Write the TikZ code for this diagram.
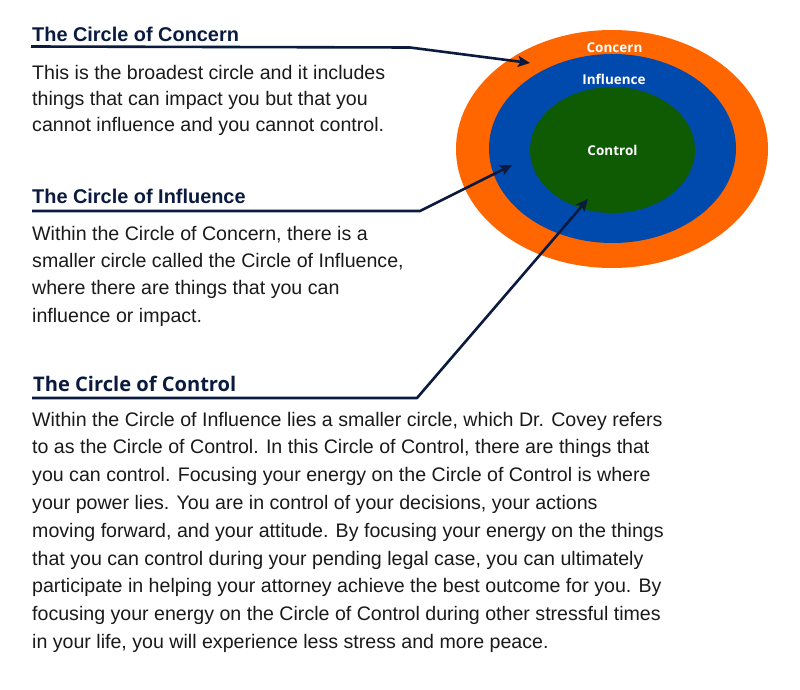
\documentclass[tikz,border=0pt]{standalone}
\usepackage{fontspec}
\setmainfont{Liberation Sans}
\newfontfamily\headfont{Open Sans}
\usetikzlibrary{arrows.meta,shapes.geometric}
\definecolor{cconcern}{HTML}{FF6600}
\definecolor{cinfluence}{HTML}{004AAD}
\definecolor{ccontrol}{HTML}{0F5B03}
\definecolor{navy}{HTML}{0B1B3F}
\definecolor{bodytext}{HTML}{1A1A1A}
\begin{document}
\begin{tikzpicture}[x=1pt,y=-1pt,
  ring/.style={ellipse, draw=none, inner sep=0pt},
  ringlabel/.style={anchor=base, inner sep=0pt, text=white, font=\headfont\bfseries\fontsize{13.5}{16}\selectfont},
  heading/.style={anchor=base west, inner sep=0pt, text=navy, font=\bfseries\fontsize{19.9}{24}\selectfont},
  headingos/.style={heading, font=\headfont\bfseries\fontsize{20.1}{24}\selectfont},
  bodyline/.style={anchor=base west, inner sep=0pt, text=bodytext, font=\fontsize{19.6}{24}\selectfont},
  conn/.style={draw=navy, line width=2.6pt, line join=round, -{Stealth[length=12pt,width=11pt,inset=2.5pt]}}
]
\useasboundingbox (0,0) rectangle (800,690);
\fill[white] (0,0) rectangle (800,690);

% circles
\node[ring, fill=cconcern, minimum width=312pt, minimum height=238pt] (concern) at (612,149) {};
\node[ring, fill=cinfluence, minimum width=247pt, minimum height=189pt] (influence) at (612.5,148.5) {};
\node[ring, fill=ccontrol, minimum width=165pt, minimum height=126pt] (control) at (612.5,150) {};
\node[ringlabel] (lconcern) at (614.5,52.3) {Concern};
\node[ringlabel] (linfluence) at (614,84.3) {Influence};
\node[ringlabel] (lcontrol) at (612.5,155) {Control};

% headings
\node[heading] (h1) at (32,41.7) {The Circle of Concern};
\node[heading] (h2) at (32,203.3) {The Circle of Influence};
\node[headingos] (h3) at (33,391.7) {The Circle of Control};

% body text
\foreach \t [count=\i from 0] in {
  {This is the broadest circle and it includes},
  {things that can impact you but that you},
  {cannot influence and you cannot control.}}
  \node[bodyline] (pa\i) at (32,{80+\i*25.8}) {\t};
\foreach \t [count=\i from 0] in {
  {Within the Circle of Concern, there is a},
  {smaller circle called the Circle of Influence,},
  {where there are things that you can},
  {influence or impact.}}
  \node[bodyline] (pb\i) at (32,{240+\i*27.4}) {\t};
\foreach \t [count=\i from 0] in {
  {Within the Circle of Influence lies a smaller circle, which Dr. Covey refers},
  {to as the Circle of Control. In this Circle of Control, there are things that},
  {you can control. Focusing your energy on the Circle of Control is where},
  {your power lies. You are in control of your decisions, your actions},
  {moving forward, and your attitude. By focusing your energy on the things},
  {that you can control during your pending legal case, you can ultimately},
  {participate in helping your attorney achieve the best outcome for you. By},
  {focusing your energy on the Circle of Control during other stressful times},
  {in your life, you will experience less stress and more peace.}}
  \node[bodyline] (pc\i) at (32,{426+\i*27.8}) {\t};

% connectors
\coordinate (u1s) at (31,46.5);
\coordinate (u1e) at (410,47.5);
\coordinate (t1) at (530,63);
\coordinate (u2s) at (32,211);
\coordinate (u2e) at (420,211);
\coordinate (t2) at (512,165);
\coordinate (u3s) at (32,398);
\coordinate (u3e) at (417,398);
\coordinate (t3) at (588,199);
\draw[conn] (u1s) -- (u1e) -- (t1);
\draw[conn] (u2s) -- (u2e) -- (t2);
\draw[conn] (u3s) -- (u3e) -- (t3);
\end{tikzpicture}
\end{document}
